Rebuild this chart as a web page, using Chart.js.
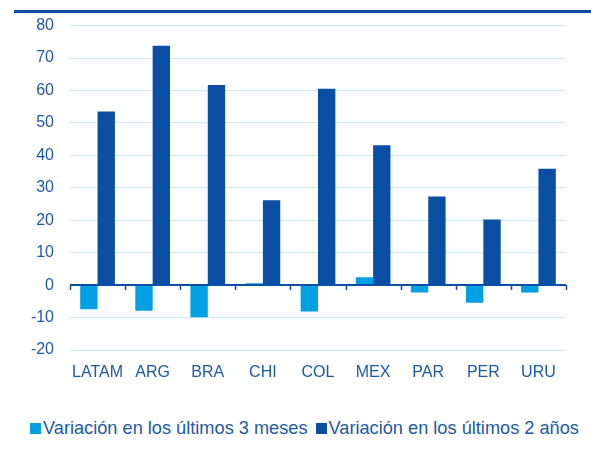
<!DOCTYPE html>
<html>
<head>
<meta charset="utf-8">
<script src="https://cdn.jsdelivr.net/npm/chart.js@4.4.0/dist/chart.umd.min.js"></script>
<style>
  body { margin: 0; background: #fff; font-family: "Liberation Sans", Arial, sans-serif; }
  #page { position: relative; width: 591px; height: 454px; overflow: hidden; }
  #topline { position: absolute; left: 14px; right: 0; top: 10px; height: 2.5px; background: #0b4fa3; }
  .chart__body { position: absolute; left: 0; top: 0; width: 591px; height: 400px; }
  #legend { position: absolute; left: 30px; top: 418px; display: flex; align-items: center;
    font-size: 18.2px; line-height: 20px; color: #1c5aa6; white-space: nowrap; }
  #legend .item { display: flex; align-items: center; margin-right: 8px; }
  #legend .box { width: 11px; height: 11px; margin-right: 2px; }
</style>
</head>
<body>
<div id="page">
  <div id="topline"></div>
  <div class="chart__body"><canvas id="myChart"></canvas></div>
  <div id="legend"></div>
</div>
<script>
// Данные графика
const categories = ["LATAM", "ARG", "BRA", "CHI", "COL", "MEX", "PAR", "PER", "URU"];
const last3Months = [-7.4, -7.9, -9.9, 0.6, -8.1, 2.4, -2.3, -5.4, -2.3];
const last2Years = [53.5, 73.8, 61.7, 26.2, 60.5, 43.1, 27.3, 20.2, 35.9];
const seriesNames = ["Variación en los últimos 3 meses", "Variación en los últimos 2 años"];
const seriesColors = ["#00a0e3", "#0a4fa3"];

const textColor = "#1c5aa6";

// Линия нуля с засечками между категориями
const zeroLine = {
  id: "zeroLine",
  afterDatasetsDraw(chart) {
    const x = chart.scales.x;
    const y = chart.scales.y;
    const ctx = chart.ctx;
    const y0 = Math.round(y.getPixelForValue(0));
    const step = (x.right - x.left) / categories.length;
    ctx.save();
    ctx.strokeStyle = "#0a4fa3";
    ctx.lineWidth = 2;
    ctx.beginPath();
    ctx.moveTo(x.left, y0);
    ctx.lineTo(x.right, y0);
    ctx.stroke();
    ctx.lineWidth = 1.5;
    for (let i = 0; i <= categories.length; i++) {
      const px = Math.round(x.left + i * step) + 0.5;
      ctx.beginPath();
      ctx.moveTo(px, y0);
      ctx.lineTo(px, y0 + 5);
      ctx.stroke();
    }
    ctx.restore();
  },
};

const config = {
  type: "bar",
  data: {
    labels: categories,
    datasets: [
      {
        label: seriesNames[0],
        data: last3Months,
        backgroundColor: seriesColors[0],
        categoryPercentage: 0.63,
        barPercentage: 1,
      },
      {
        label: seriesNames[1],
        data: last2Years,
        backgroundColor: seriesColors[1],
        categoryPercentage: 0.63,
        barPercentage: 1,
      },
    ],
  },
  options: {
    responsive: true,
    maintainAspectRatio: false,
    animation: false,
    layout: { autoPadding: false, padding: { top: 22, right: 25, left: 0, bottom: 0 } },
    scales: {
      x: {
        grid: { display: false },
        border: { display: false },
        ticks: {
          color: textColor,
          padding: 5,
          font: { family: "'Liberation Sans', Arial, sans-serif", size: 16 },
          maxRotation: 0,
          autoSkip: false,
        },
        afterFit(scale) {
          scale.height = 50;
        },
      },
      y: {
        min: -20,
        max: 80,
        border: { display: false },
        grid: {
          drawTicks: false,
          color: (c) => (c.tick && c.tick.value === 0 ? "rgba(0,0,0,0)" : "#c9ecfa"),
          lineWidth: 1,
        },
        ticks: {
          stepSize: 10,
          color: textColor,
          padding: 16,
          font: { family: "'Liberation Sans', Arial, sans-serif", size: 16 },
        },
        afterFit(scale) {
          scale.width = 70;
        },
      },
    },
    plugins: {
      legend: { display: false },
      tooltip: { enabled: false },
      title: { display: false },
    },
  },
  plugins: [zeroLine],
};

const myChart = new Chart(document.getElementById("myChart"), config);

// Легенда
const legend = document.getElementById("legend");
myChart.data.datasets.forEach(function (ds) {
  const item = document.createElement("div");
  item.className = "item";
  const box = document.createElement("span");
  box.className = "box";
  box.style.background = ds.backgroundColor;
  const label = document.createElement("span");
  label.textContent = ds.label;
  item.appendChild(box);
  item.appendChild(label);
  legend.appendChild(item);
});
</script>
</body>
</html>
